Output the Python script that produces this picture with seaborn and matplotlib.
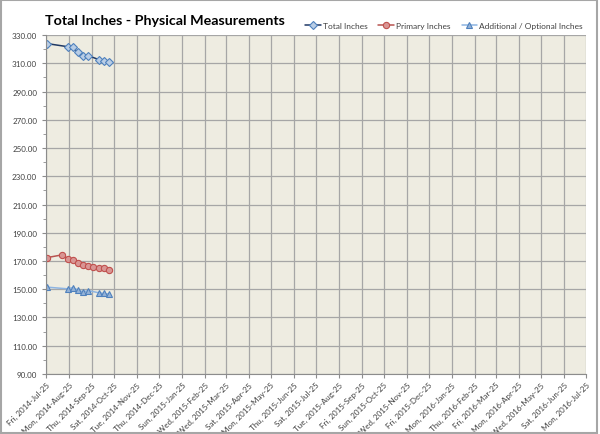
import pandas as pd
import matplotlib
matplotlib.use("Agg")
import matplotlib.pyplot as plt
import matplotlib.dates as mdates
from matplotlib.ticker import MultipleLocator, FormatStrFormatter
import seaborn as sns

# === Measurement data ===
dates = ["2014-07-26", "2014-08-16", "2014-08-23", "2014-08-30", "2014-09-06", "2014-09-13",
         "2014-09-20", "2014-09-27", "2014-10-04", "2014-10-11", "2014-10-18"]
total_inches = [324.0, None, 321.8, 321.6, 317.7, 315.3, 315.4, None, 312.7, 311.8, 310.6]
primary_inches = [172.4, 174.4, 171.6, 170.6, 168.3, 167.1, 166.3, 165.5, 165.1, 165.0, 163.9]
additional_inches = [151.5, None, 150.3, 151.2, 149.4, 148.2, 149.1, None, 147.5, 147.0, 146.6]

df = pd.DataFrame({
    "Date": pd.to_datetime(dates),
    "Total Inches": total_inches,
    "Primary Inches": primary_inches,
    "Additional / Optional Inches": additional_inches,
})

sns.set_style("ticks", {"axes.facecolor": "#EEECE1"})
plt.rcParams["font.family"] = ["Lato", "DejaVu Sans"]

fig = plt.figure(figsize=(6, 4.35), dpi=100)
ax = fig.add_axes([0.077, 0.138, 0.9, 0.779])

styles = {
    "Total Inches": dict(color="#1F3864", marker="D", markersize=4.0, markerfacecolor="#B9CDE5",
                         markeredgecolor="#4F81BD", linewidth=1.1),
    "Primary Inches": dict(color="#B85450", marker="o", markersize=4.5, markerfacecolor="#D99694",
                           markeredgecolor="#C0504D", linewidth=1.1),
    "Additional / Optional Inches": dict(color="#8DB4E2", marker="^", markersize=5, markerfacecolor="#95B3D7",
                                         markeredgecolor="#4F81BD", linewidth=1.1),
}
for name, kw in styles.items():
    sub = df[["Date", name]].dropna()
    sns.lineplot(data=sub, x="Date", y=name, ax=ax, label=name, markeredgewidth=0.8, **kw)

ax.set_ylim(90, 330)
ax.yaxis.set_major_locator(MultipleLocator(20, offset=10))
ax.yaxis.set_minor_locator(MultipleLocator(10))
ax.yaxis.set_major_formatter(FormatStrFormatter("%.2f"))
ax.set_xlim(pd.Timestamp("2014-07-25"), pd.Timestamp("2016-07-25"))
ax.xaxis.set_major_locator(mdates.MonthLocator(bymonthday=25))
ax.xaxis.set_major_formatter(mdates.DateFormatter("%a, %Y-%b-%d"))

ax.grid(True, which="major", color="#A6A6A6", linewidth=0.9)
ax.set_axisbelow(True)
for side in ["top", "right"]:
    ax.spines[side].set_visible(False)
for side in ["left", "bottom"]:
    ax.spines[side].set_color("#8C8C8C")
ax.tick_params(axis="both", which="both", colors="#8C8C8C", labelcolor="#404040", labelsize=5.8, length=3)
ax.tick_params(axis="y", which="minor", length=2)
ax.tick_params(axis="x", pad=2)
plt.setp(ax.get_xticklabels(), rotation=45, ha="right", rotation_mode="anchor")
ax.set_xlabel("")
ax.set_ylabel("")

fig.text(0.075, 0.943, "Total Inches - Physical Measurements", fontsize=10.3, fontweight="bold", color="#000000")
ax.legend(loc="lower right", bbox_to_anchor=(1.005, 1.0), ncol=3, frameon=False, fontsize=6.0,
          handlelength=1.9, columnspacing=1.3, handletextpad=0.25, borderaxespad=0.3, labelcolor="#404040")

fig.patches.append(plt.Rectangle((0.002, 0.002), 0.993, 0.995, transform=fig.transFigure,
                                 fill=False, edgecolor="#A6A6A6", linewidth=1.5))

fig.savefig("out.png", dpi=100)
